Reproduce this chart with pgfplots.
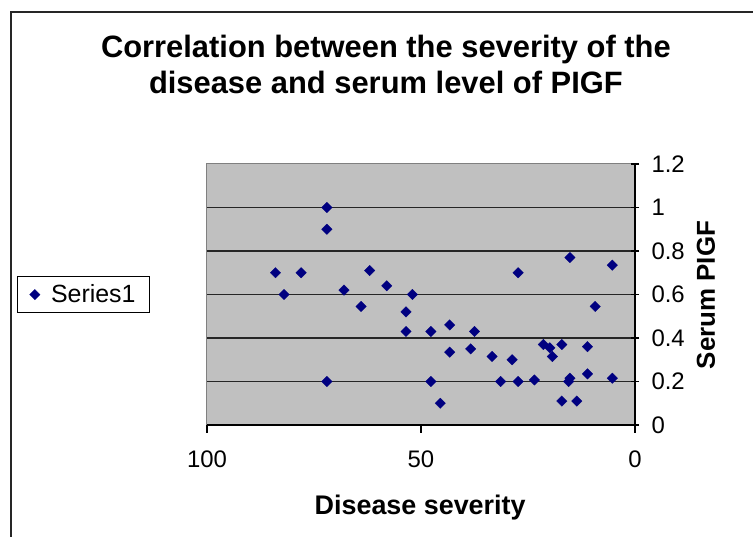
\documentclass[border=0pt]{standalone}
\usepackage{pgfplots}
\pgfplotsset{compat=1.18}
\usepackage{fontspec}
\setmainfont{Liberation Sans}
\definecolor{navy}{RGB}{0,0,128}
\definecolor{plotgray}{RGB}{192,192,192}
\begin{document}
\begin{tikzpicture}[x=1bp,y=1bp]
\useasboundingbox (0,0) rectangle (753,537);
\fill[white] (0,0) rectangle (753,537);
\draw[line width=1.5bp, black!85] (11,0) -- (11,525) -- (753,525);
\begin{axis}[
  at={(207bp,112bp)}, anchor=south west,
  scale only axis, width=428bp, height=261bp,
  xmin=0, xmax=100, x dir=reverse,
  ymin=0, ymax=1.2,
  xtick={0,50,100},
  ytick={0.2,0.4,0.6,0.8,1},
  extra y ticks={0,1.2},
  extra y tick style={grid=none},
  ymajorgrids,
  grid style={black!85, line width=1.9bp},
  axis x line*=bottom, axis y line*=right,
  axis line style={black, line width=1.5bp},
  axis background/.style={fill=plotgray, draw=gray, line width=1bp},
  xtick align=outside, ytick align=center,
  major tick length=8bp,
  tick style={black, line width=1.2bp},
  /pgf/number format/assume math mode=true,
  ticklabel style={font=\fontsize{24}{26}\selectfont},
  yticklabel pos=right,
  xticklabel style={yshift=-14bp},
  yticklabel style={anchor=west, xshift=9bp},
  xlabel={Disease severity},
  ylabel={Serum PIGF},
  xlabel style={at={(axis description cs:0.498,-0.318)}, anchor=center, font=\bfseries\fontsize{27}{30}\selectfont},
  ylabel style={at={(axis description cs:1.166,0.498)}, anchor=center, font=\bfseries\fontsize{26}{29}\selectfont},
  title={Correlation between the severity of the\\disease and serum level of PIGF},
  title style={at={(axis description cs:0.418,1.36)}, anchor=center, align=center, font=\bfseries\fontsize{31}{36}\selectfont},
  legend style={at={(axis description cs:-0.444,0.429)}, anchor=south west, draw=black, line width=1.3bp, fill=white, font=\fontsize{25}{28}\selectfont, inner xsep=12bp, inner ysep=6bp, column sep=9bp},
  legend cell align=left,
  clip=false,
]
\addplot[only marks, mark=square*, mark size=3.7bp, mark options={rotate=45, fill=navy, draw=navy, line width=0.3bp}] coordinates {
(72,1.0) (72,0.90) (84,0.70) (78,0.70) (82,0.60) (62,0.71) (68,0.62)
(58,0.64) (52,0.60) (64,0.545) (53.5,0.52) (53.5,0.43) (47.7,0.43)
(72,0.20) (47.7,0.20) (45.5,0.10) (43.3,0.46) (43.3,0.335) (38.4,0.35)
(37.5,0.43) (33.4,0.315) (31.4,0.20) (28.7,0.30) (27.3,0.70) (27.3,0.20)
(23.5,0.207) (21.4,0.37) (19.9,0.355) (19.3,0.315) (17.1,0.37) (17.1,0.11)
(15.2,0.77) (15.2,0.215) (15.5,0.20) (13.6,0.11) (11.1,0.36) (11.1,0.235)
(9.3,0.545) (5.3,0.735) (5.3,0.215)
};
\addlegendentry{Series1}
\end{axis}
\end{tikzpicture}
\end{document}
